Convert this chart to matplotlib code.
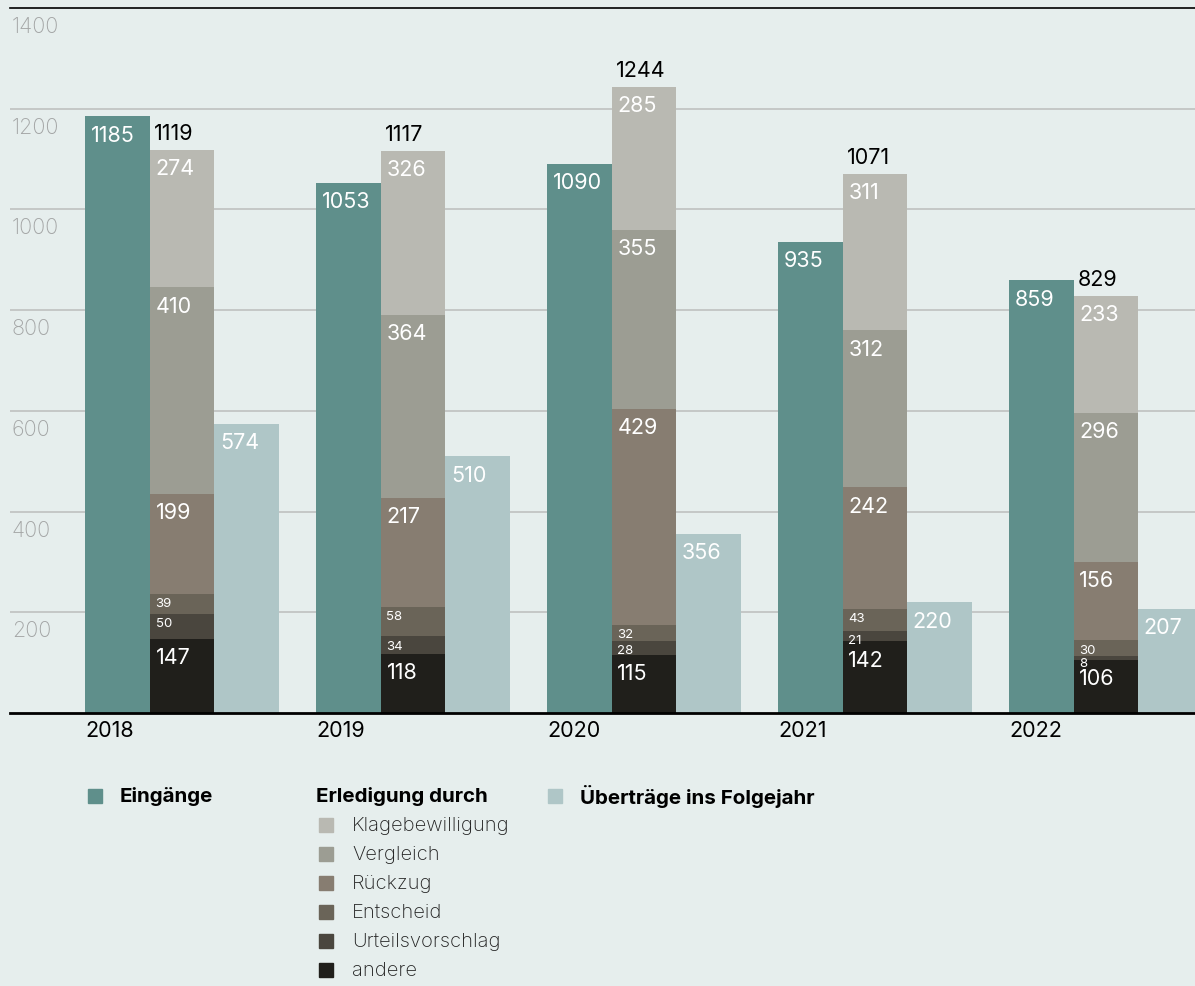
import matplotlib.pyplot as plt
from matplotlib.patches import Rectangle
from matplotlib.transforms import blended_transform_factory, ScaledTranslation

plt.rcParams['font.family'] = ['Inter', 'DejaVu Sans']

# Daten
jahre = ['2018', '2019', '2020', '2021', '2022']
eingaenge = [1185, 1053, 1090, 935, 859]
uebertraege = [574, 510, 356, 220, 207]

# Erledigung durch (von unten nach oben gestapelt)
andere = [147, 118, 115, 142, 106]
urteilsvorschlag = [50, 34, 28, 21, 8]
entscheid = [39, 58, 32, 43, 30]
rueckzug = [199, 217, 429, 242, 156]
vergleich = [410, 364, 355, 312, 296]
klagebewilligung = [274, 326, 285, 311, 233]

stapel = [
    ('andere', andere, '#201f1b'),
    ('Urteilsvorschlag', urteilsvorschlag, '#4a463e'),
    ('Entscheid', entscheid, '#6a6458'),
    ('Rückzug', rueckzug, '#877d71'),
    ('Vergleich', vergleich, '#9c9d93'),
    ('Klagebewilligung', klagebewilligung, '#b9b9b2'),
]

bg = '#e6eeed'
farbe_eing = '#5f8f8b'
farbe_ueb = '#afc6c7'

W, H = 1195, 987
fig = plt.figure(figsize=(W / 100, H / 100), dpi=100, facecolor=bg)
ax = fig.add_axes([10 / W, (H - 714) / H, 1185 / W, (714 - 9) / H])
ax.set_facecolor(bg)

abstand = 3.58
breite = 1.0
gruppen = [i * abstand for i in range(len(jahre))]

ax.set_xlim(-2.67, 15.70)
ax.set_ylim(0, 1400)

# Gitterlinien
for v in range(200, 1400, 200):
    ax.axhline(v, color='#c2c4c3', lw=1.3, zorder=0)

for s in ['left', 'right']:
    ax.spines[s].set_visible(False)
ax.spines['top'].set_color('black')
ax.spines['top'].set_linewidth(1.2)
ax.spines['bottom'].set_color('black')
ax.spines['bottom'].set_linewidth(2)
ax.tick_params(axis='y', left=False, labelleft=False)
ax.tick_params(axis='x', length=0, pad=5, labelsize=15.5)
ax.set_xticks([g - 1.5 for g in gruppen], jahre)
for lab in ax.get_xticklabels():
    lab.set_ha('left')

# y-Beschriftung innerhalb des Diagramms, unter der Linie
trans = blended_transform_factory(ax.transAxes, ax.transData)
for v in range(200, 1600, 200):
    ax.text(0.0015, v, str(v), transform=trans + ScaledTranslation(0, -8 / 100, fig.dpi_scale_trans),
            ha='left', va='top', fontsize=15.5, color='#a3a5a5', fontweight='light')


def label_innen(x_links, y_oben, wert, gross=True):
    if gross:
        ax.annotate(str(wert), (x_links, y_oben), xytext=(4.0, -6.0), textcoords='offset points',
                    ha='left', va='top', fontsize=15.5, color='white', zorder=5)
    else:
        pad = -2.2 if wert >= 15 else -0.8
        ax.annotate(str(wert), (x_links, y_oben), xytext=(4.0, pad), textcoords='offset points',
                    ha='left', va='top', fontsize=9.5, color='white', zorder=5)


for i, g in enumerate(gruppen):
    # Eingänge
    ax.bar(g - breite, eingaenge[i], width=breite, color=farbe_eing, zorder=2)
    label_innen(g - 1.5 * breite, eingaenge[i], eingaenge[i])

    # Erledigungen gestapelt
    unten = 0
    for name, werte, farbe in stapel:
        w = werte[i]
        ax.bar(g, w, width=breite, bottom=unten, color=farbe, zorder=2)
        label_innen(g - 0.5 * breite, unten + w, w, gross=w >= 100)
        unten += w
    ax.annotate(str(unten), (g - 0.5 * breite, unten), xytext=(3.0, 5.0), textcoords='offset points',
                ha='left', va='bottom', fontsize=15.5, color='black', zorder=5)

    # Überträge
    ax.bar(g + breite, uebertraege[i], width=breite, color=farbe_ueb, zorder=2)
    label_innen(g + 0.5 * breite, uebertraege[i], uebertraege[i])


# Legende (Pixelkoordinaten)
def px(x, y):
    return x / W, 1 - y / H


def quadrat(x, y, farbe):
    fx, fy = px(x, y + 7)
    fig.patches.append(Rectangle((fx, fy), 14 / W, 14 / H, color=farbe, transform=fig.transFigure))


quadrat(88, 797, farbe_eing)
fig.text(*px(120, 797), 'Eingänge', fontsize=14.8, fontweight='bold', va='center', ha='left')
fig.text(*px(316, 797), 'Erledigung durch', fontsize=14.8, fontweight='bold', va='center', ha='left')
quadrat(548, 797, farbe_ueb)
fig.text(*px(580, 797), 'Überträge ins Folgejahr', fontsize=14.8, fontweight='bold', va='center', ha='left')

for k, (name, werte, farbe) in enumerate(reversed(stapel)):
    y = 826 + k * 29
    quadrat(319, y, farbe)
    fig.text(*px(352, y), name, fontsize=14.5, fontweight='light', va='center', ha='left', color='#222222')

plt.savefig('out.png', dpi=100, facecolor=bg)
